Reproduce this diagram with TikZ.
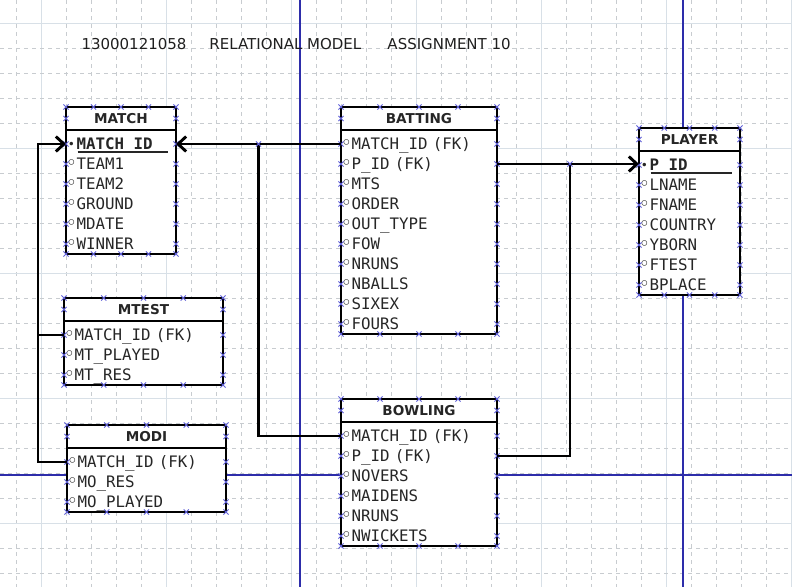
\documentclass[tikz,border=0pt]{standalone}
\usepackage{fontspec}
\setmainfont{DejaVu Sans}
\setmonofont{DejaVu Sans Mono}
\newfontfamily\symf{DejaVu Sans}
\usetikzlibrary{positioning,calc,arrows.meta}
\tikzset{>={Straight Barb[length=8pt,width=15pt]}}

\definecolor{gridmin}{RGB}{200,204,208}
\definecolor{gridmaj}{RGB}{216,224,231}
\definecolor{guide}{RGB}{45,45,170}
\definecolor{hdlblue}{RGB}{95,95,215}

% row markers: open circle for attributes, dot + bold for the key
\newcommand{\atmark}{\makebox[10pt]{\raisebox{0pt}{\symf\fontsize{19}{19}\selectfont ◦}}}
\newcommand{\pkmark}{\makebox[10pt]{\raisebox{1pt}{\symf\fontsize{12}{12}\selectfont •}}\bfseries}

% small selection cross
\newcommand{\hmark}[1]{\draw[hdl] #1 +(-2.6,-2.6) -- +(2.6,2.6) #1 +(-2.6,2.6) -- +(2.6,-2.6);}

% #1 name, #2 top left, #3 width, #4 title, #5 rows (kind/text)
\newcommand{\ertable}[5]{%
  \foreach \kind/\txt [count=\i] in {#5} {\xdef\nrows{\i}}
  \pgfmathsetmacro\rowtw{#3-1}
  \draw[tabframe] (#2) rectangle ++(#3,{27+20*\nrows});
  \node[tabhead, minimum width=#3pt, anchor=north west] (#1) at (#2) {#4};
  \draw[tabframe] (#1.south west) -- (#1.south east);
  \node[rowstart] (#1-0) at ([yshift=-4pt]#1.south west) {};
  \foreach \kind/\txt [count=\i, remember=\i as \prev (initially 0)] in {#5} {
    \node[attrrow, \kind row, minimum width=#3pt, text width=\rowtw pt]
      (#1-\i) at (#1-\prev.south west) {\csname\kind mark\endcsname\txt};
  }
  \foreach \q in {0,0.25,0.5,0.75,1} {
    \hmark{($(#1.north west)!\q!(#1.north east)$)}
    \hmark{($(#1-\nrows.south west)!\q!(#1-\nrows.south east)$)}
  }
  \hmark{(#1.west)} \hmark{(#1.east)}
  \foreach \i in {1,...,\nrows} {\hmark{(#1-\i.west)} \hmark{(#1-\i.east)}}
}

\begin{document}
\begin{tikzpicture}[
    x=1pt, y=-1pt,
    gridminor/.style={gridmin, line width=0.8pt, dash pattern=on 4pt off 4pt},
    gridmajor/.style={gridmaj, line width=0.9pt},
    guideline/.style={guide, line width=1.3pt},
    tabframe/.style={draw=black, fill=white, line width=2.9pt},
    tabhead/.style={minimum height=23pt, inner sep=0pt, outer sep=0pt, text=black!85,
      font=\fontsize{13.6}{16}\selectfont\bfseries},
    rowstart/.style={inner sep=0pt, outer sep=0pt, minimum size=0pt},
    attrrow/.style={anchor=north west, minimum height=20pt, inner xsep=0.5pt,
      inner ysep=0pt, outer sep=0pt, text height=11pt, text depth=0pt, align=left,
      text=black!85, font=\fontsize{15.8}{18}\selectfont\ttfamily},
    atrow/.style={},
    pkrow/.style={path picture={\draw[line width=1.5pt, black!85]
      ([xshift=11.5pt,yshift=-8pt]path picture bounding box.west) --
      ([xshift=-8pt,yshift=-8pt]path picture bounding box.east);}},
    hdl/.style={hdlblue, line width=0.8pt},
    rel/.style={line width=2.9pt}
]
\useasboundingbox (0,0) rectangle (792,587);

% background grid
\foreach \k in {0,...,31} {
  \pgfmathtruncatemacro\gx{16+25*\k}
  \pgfmathtruncatemacro\major{mod(\k,5)==1}
  \ifnum\major=1 \draw[gridmajor] (\gx,0) -- (\gx,587);
  \else \draw[gridminor] (\gx,0) -- (\gx,587); \fi
}
\foreach \k in {0,...,22} {
  \pgfmathtruncatemacro\gy{23+25*\k}
  \pgfmathtruncatemacro\major{mod(\k,5)==0}
  \ifnum\major=1 \draw[gridmajor] (0,\gy) -- (792,\gy);
  \else \draw[gridminor] (0,\gy) -- (792,\gy); \fi
}
\draw[guideline] (300,0) -- (300,587);
\draw[guideline] (683,0) -- (683,587);
\draw[guideline] (0,475) -- (792,475);

\node[anchor=base west, text=black!88, font=\fontsize{15}{17}\selectfont] (title) at (78,49)
  {\makebox[128pt][l]{13000121058}\makebox[178pt][l]{RELATIONAL MODEL}ASSIGNMENT 10};

% tables
\ertable{match}{66,107}{110}{MATCH}{pk/MATCH\_ID, at/TEAM1, at/TEAM2, at/GROUND, at/MDATE, at/WINNER}
\ertable{batting}{341,107}{156}{BATTING}{at/MATCH\_ID (FK), at/P\_ID (FK), at/MTS, at/ORDER,
  at/OUT\_TYPE, at/FOW, at/NRUNS, at/NBALLS, at/SIXEX, at/FOURS}
\ertable{player}{639,128}{101}{PLAYER}{pk/P\_ID, at/LNAME, at/FNAME, at/COUNTRY, at/YBORN, at/FTEST, at/BPLACE}
\ertable{mtest}{64,298}{159}{MTEST}{at/MATCH\_ID (FK), at/MT\_PLAYED, at/MT\_RES}
\ertable{modi}{67,425}{159}{MODI}{at/MATCH\_ID (FK), at/MO\_RES, at/MO\_PLAYED}
\ertable{bowling}{341,399}{156}{BOWLING}{at/MATCH\_ID (FK), at/P\_ID (FK), at/NOVERS, at/MAIDENS,
  at/NRUNS, at/NWICKETS}

% relationships
\path (match-1.east) -- (batting-1.west) coordinate[pos=0.5] (mfork);
\path (batting-2.east) -- (batting-2.east -| player-1.west) coordinate[pos=0.514] (pfork);
\coordinate (spine) at ([xshift=-26pt]mtest-1.west);

\draw[rel,->] (batting-1.west) -- (match-1.east);
\draw[rel] (mfork) |- (bowling-1.west);
\draw[rel,->] (mtest-1.west) -- (spine) |- (match-1.west);
\draw[rel] (modi-1.west) -| (spine);
\draw[rel,->] (batting-2.east) -- (batting-2.east -| player-1.west);
\draw[rel] (pfork) |- (bowling-2.east);
\hmark{(mfork)} \hmark{(pfork)}
\end{tikzpicture}
\end{document}
